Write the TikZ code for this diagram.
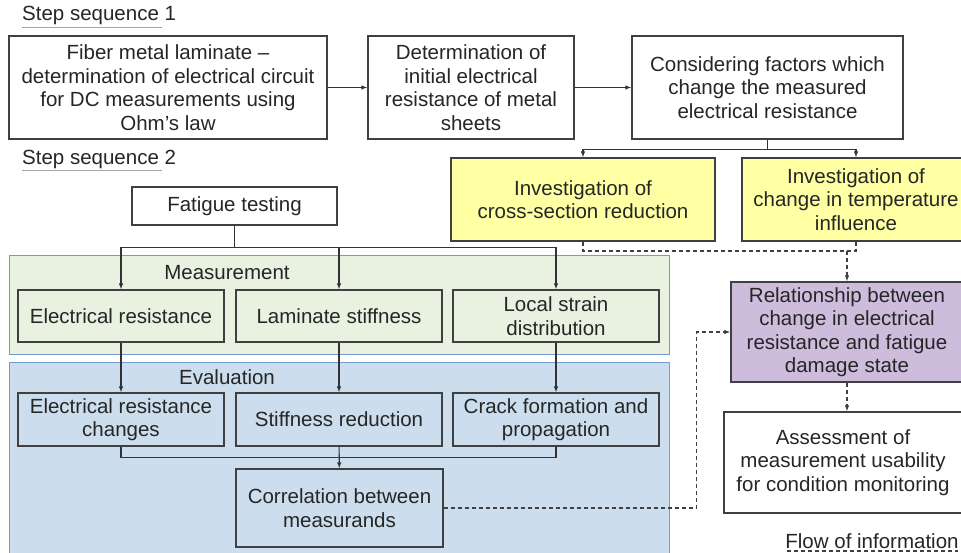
\documentclass[tikz,border=0pt]{standalone}
\usepackage{fontspec}
\setmainfont{Liberation Sans}
\usepackage{tikz}
\usetikzlibrary{arrows.meta,positioning,calc}
\usepackage{xcolor}
\definecolor{boxline}{RGB}{64,64,64}
\definecolor{ylw}{RGB}{255,255,163}
\definecolor{lila}{RGB}{205,188,220}
\definecolor{grn}{RGB}{233,241,225}
\definecolor{blu}{RGB}{204,222,238}
\definecolor{regline}{RGB}{115,155,205}

\begin{document}
\begin{tikzpicture}[x=1pt,y=-1pt,>={Latex[length=6pt,width=4.5pt]},
  font=\fontsize{20.5}{23.5}\selectfont,
  box/.style={draw=boxline,line width=1.2pt,align=center,inner sep=2pt,text=black!85},
  region/.style={fill=#1,draw=regline,line width=1pt},
  flow/.style={dash pattern=on 4pt off 3pt,line width=1.1pt,draw=black!75},
  link/.style={line width=1.1pt,draw=black!80}]
\clip (0,0) rectangle (961,553);
\fill[white] (0,0) rectangle (961,553);
% step sequence 1
\node[anchor=west,inner sep=0pt,text=black!85] (seqone) at (22,15) {Step sequence 1};
\draw[gray!70,line width=1pt] (22,28) -- (162,28);
\node[box,minimum width=318pt,minimum height=103pt] (fml) at (168,87.5) {Fiber metal laminate --\\determination of electrical circuit\\for DC measurements using\\Ohm's law};
\node[box,minimum width=206pt,minimum height=103pt] (initres) at (471,87.5) {Determination of\\initial electrical\\resistance of metal\\sheets};
\node[box,minimum width=271pt,minimum height=103pt] (factors) at (767.5,87.5) {Considering factors which\\change the measured\\electrical resistance};
\node[box,fill=ylw,minimum width=264pt,minimum height=83pt] (crossred) at (583,199.5) {Investigation of\\cross-section reduction};
\node[box,fill=ylw,minimum width=228pt,minimum height=83pt] (tempinf) at (856,199.5) {Investigation of\\change in temperature\\influence};
\draw[link,->] (fml) -- (initres);
\draw[link,->] (initres) -- (factors);
\draw[link,->] (factors.south) -- ++(0,10) -| (crossred.north);
\draw[link,->] (factors.south) -- ++(0,10) -| (tempinf.north);
% step sequence 2
\node[anchor=west,inner sep=0pt,text=black!85] (seqtwo) at (22,159) {Step sequence 2};
\draw[gray!70,line width=1pt] (22,171) -- (162,171);
\node[box,minimum width=205pt,minimum height=38pt] (fatigue) at (234.5,206) {Fatigue testing};
\draw[region=grn] (9,256) rectangle (669,354);
\draw[region=blu] (9,362) rectangle (669,570);
\node[text=black!85] (meas) at (227,273) {Measurement};
\node[text=black!85] (evalu) at (227,377) {Evaluation};
\node[box,minimum width=206pt,minimum height=52pt] (mres) at (121,316) {Electrical resistance};
\node[box,minimum width=206pt,minimum height=52pt] (mstiff) at (339,316) {Laminate stiffness};
\node[box,minimum width=206pt,minimum height=52pt] (mstrain) at (556,316) {Local strain\\distribution};
\node[box,minimum width=206pt,minimum height=53pt] (eres) at (121,419.5) {Electrical resistance\\changes};
\node[box,minimum width=206pt,minimum height=53pt] (estiff) at (339,419.5) {Stiffness reduction};
\node[box,minimum width=206pt,minimum height=53pt] (ecrack) at (556,419.5) {Crack formation and\\propagation};
\node[box,minimum width=207pt,minimum height=78pt] (corr) at (339.5,508) {Correlation between\\measurands};
\foreach \m in {mres,mstiff,mstrain}
  \draw[link,->] (fatigue.south) -- ++(0,22) -| (\m.north);
\draw[link,->] (mres) -- (eres);
\draw[link,->] (mstiff) -- (estiff);
\draw[link,->] (mstrain) -- (ecrack);
\draw[link] (eres.south) -- ++(0,11) -| (ecrack.south);
\draw[link,->] (estiff) -- (corr);
% results
\node[box,fill=lila,minimum width=232pt,minimum height=100pt] (relation) at (847,332) {Relationship between\\change in electrical\\resistance and fatigue\\damage state};
\node[box,minimum width=238pt,minimum height=101pt] (assess) at (843,462.5) {Assessment of\\measurement usability\\for condition monitoring};
\coordinate (join) at (847,251);
\draw[flow] (crossred.south) |- (join);
\draw[flow] (tempinf.south) |- (join);
\draw[flow,->] (join) -- (relation.north);
\draw[flow,->] (corr.east) -- ++(253,0) |- (relation.west);
\draw[flow,->] (relation.south) -- (relation.south |- assess.north);
% legend
\node[text=black!85] (flowinfo) at (872,541) {Flow of information};
\draw[flow] (787,551) -- (958,551);
\end{tikzpicture}
\end{document}
